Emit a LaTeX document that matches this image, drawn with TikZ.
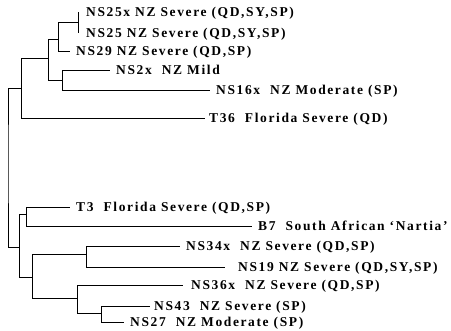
\documentclass[tikz,border=0pt]{standalone}
\usepackage{fontspec}
\setmainfont{Liberation Serif}[LetterSpace=12]
\usetikzlibrary{positioning}

\begin{document}
\begin{tikzpicture}[x=1pt,y=-1pt,
  leaf/.style={anchor=west,inner xsep=6pt,inner ysep=0pt,text height=9pt,text depth=0pt,
    font=\fontsize{13.5}{15}\selectfont\bfseries},
  br/.style={line width=0.8pt,black}]
\useasboundingbox (0,0) rectangle (451,331);
% tips
\node[leaf,inner xsep=8pt] (ns25x) at (78,12) {NS25x NZ Severe (QD,SY,SP)};
\node[leaf,inner xsep=8pt] (ns25) at (78,33) {NS25 NZ Severe (QD,SY,SP)};
\node[leaf] (ns29) at (70,51) {NS29 NZ Severe (QD,SP)};
\node[leaf] (ns2x) at (110,70) {NS2x\ \ NZ Mild};
\node[leaf] (ns16x) at (210,90) {NS16x\ \ NZ Moderate (SP)};
\node[leaf,inner xsep=4pt] (t36) at (205,118) {T36\ \ Florida Severe (QD)};
\node[leaf] (t3) at (70,207) {T3\ \ Florida Severe (QD,SP)};
\node[leaf] (b7) at (252,226) {B7\ \ South African ‘Nartia’};
\node[leaf] (ns34x) at (180,246) {NS34x\ \ NZ Severe (QD,SP)};
\node[leaf,inner xsep=13pt] (ns19) at (225,267) {NS19 NZ Severe (QD,SY,SP)};
\node[leaf,inner xsep=8pt] (ns36x) at (183,285) {NS36x\ \ NZ Severe (QD,SP)};
\node[leaf,inner xsep=4pt] (ns43) at (150,306) {NS43\ \ NZ Severe (SP)};
\node[leaf] (ns27) at (124,322) {NS27\ \ NZ Moderate (SP)};
% internal nodes
\coordinate (a) at (78,22);
\coordinate (b) at (58,39);
\coordinate (c) at (62,80);
\coordinate (d) at (48,58);
\coordinate (e) at (21,88);
\coordinate (f) at (26,214);
\coordinate (g) at (86,254);
\coordinate (h) at (101,313);
\coordinate (i) at (77,298);
\coordinate (j) at (32,277);
\coordinate (k) at (19,247);
\coordinate (root) at (8,160);
\foreach \p/\q in {a/ns25x.west,a/ns25.west,b/a,b/ns29.west,c/ns2x.west,c/ns16x.west,
  d/b,d/c,e/d,e/t36.west,f/t3.west,f/b7.west,g/ns34x.west,g/ns19.west,
  h/ns43.west,h/ns27.west,i/ns36x.west,i/h,j/g,j/i,k/f,k/j}
  \draw[br] (\p) |- (\q);
\draw[br] (e) -| (root) |- (k);
\end{tikzpicture}
\end{document}
